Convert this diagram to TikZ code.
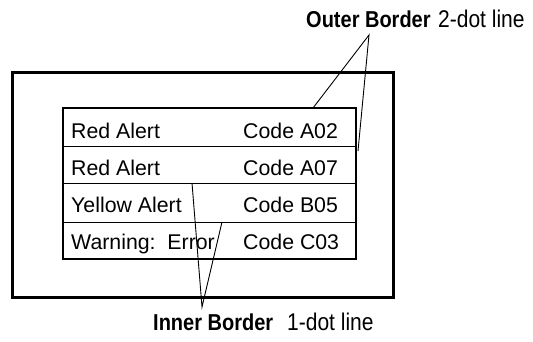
\documentclass[tikz,border=0pt]{standalone}
\usepackage{graphicx}
\usepackage{fontspec}
\setmainfont{Liberation Sans}
\frenchspacing
\newcommand{\tallbox}[1]{\scalebox{1}[1.15]{#1}}
\begin{document}
\begin{tikzpicture}[x=1pt,y=-1pt,
  frame/.style={draw=black,line width=3pt},
  tbl/.style={draw=black,line width=2.6pt},
  divider/.style={draw=black,line width=1pt},
  cell/.style={anchor=base west,inner sep=0pt,font=\fontsize{21.3}{24}\selectfont},
  lbl/.style={anchor=base west,inner sep=0pt,font=\fontsize{20}{24}\selectfont\bfseries},
  note/.style={anchor=base west,inner sep=0pt,font=\fontsize{21}{24}\selectfont},
  leader/.style={draw=black,line width=0.9pt}]
\useasboundingbox (0,0) rectangle (533,341);
\fill[white] (0,0) rectangle (533,341);
% window frame and table
\draw[frame] (12,72) rectangle (393,297);
\draw[tbl] (63,108) rectangle (356,259);
\coordinate (d1l) at (63,146); \coordinate (d1r) at (356,146);
\coordinate (d2l) at (63,183); \coordinate (d2r) at (356,183);
\coordinate (d3l) at (63,222); \coordinate (d3r) at (356,222);
\draw[divider] (d1l) -- (d1r);
\draw[divider] (d2l) -- (d2r);
\draw[divider] (d3l) -- (d3r);
% cells
\node[cell] (r1a) at (71,138) {Red Alert};
\node[cell] (r1b) at (243,138) {Code A02};
\node[cell] (r2a) at (71,175) {Red Alert};
\node[cell] (r2b) at (243,175) {Code A07};
\node[cell] (r3a) at (71,212) {Yellow Alert};
\node[cell] (r3b) at (243,212) {Code B05};
\node[cell] (r4a) at (71,249) {Warning:~~Error};
\node[cell] (r4b) at (243,249) {Code C03};
% labels
\node[lbl] (outer) at (306,27.5) {\tallbox{Outer Border}};
\node[note] (outernote) at (438,27.5) {\tallbox{2-dot line}};
\node[lbl] (inner) at (153,330) {\tallbox{Inner Border}};
\node[note] (innernote) at (287,330) {\tallbox{1-dot line}};
% leaders
\coordinate (oa) at (369,35);
\coordinate (ot) at (313,108);
\coordinate (or) at (358,151);
\draw[leader] (ot) -- (oa) -- (or);
\coordinate (ia) at (202,307);
\coordinate (i1) at (192,183);
\coordinate (i2) at (222,222);
\draw[leader] (i1) -- (ia) -- (i2);
\end{tikzpicture}
\end{document}
